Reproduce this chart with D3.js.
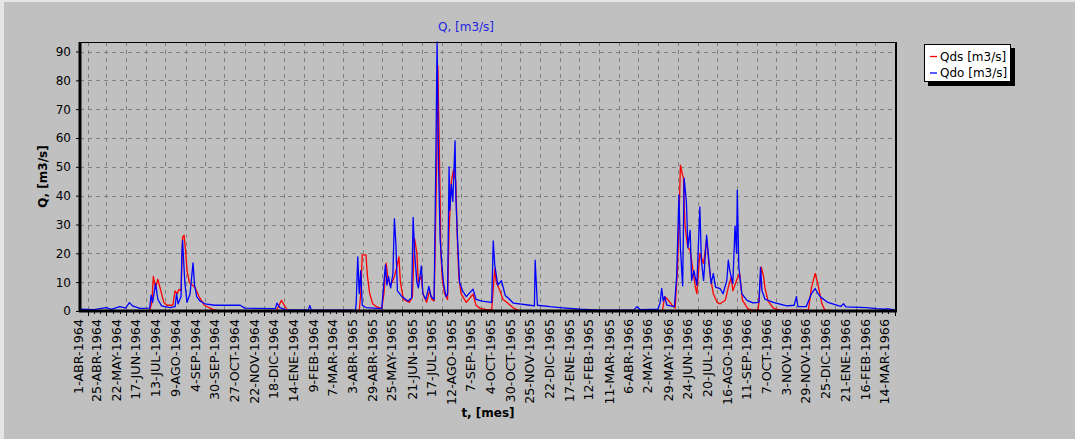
<!DOCTYPE html>
<html>
<head>
<meta charset="utf-8">
<script src="https://cdn.jsdelivr.net/npm/d3@7"></script>
<style>
  html, body { margin: 0; padding: 0; background: #c0c0c0; }
  svg { display: block; }
  text { font-family: "DejaVu Sans", sans-serif; }
</style>
</head>
<body>
<svg id="chart" width="1075" height="439"></svg>
<script>
// Daily discharge, days counted from 1-ABR-1964; [day, Q m3/s]
const qdsDays = [-11,82,85,87,90,93,97,101,105,113,116,119,121,124,126,128,130,132,135,139,143,148,155,167,176,251,255,258,263,267,362,364,366,371,373,376,380,385,392,395,397,398,400,403,406,409,412,415,417,421,429,433,436,439,441,445,447,452,456,459,462,464,466,467,468,470,471,473,476,480,482,485,488,491,493,495,498,505,514,518,523,532,539,543,545,550,554,559,568,577,767,770,775,780,784,787,789,791,794,795,797,799,801,804,811,813,817,822,826,831,835,840,844,851,855,859,861,866,870,874,881,888,895,899,902,904,908,915,924,962,966,971,975,980,984,1004,1079];
const qdsValues = [0,0,3,12,8,11,7,3,2,2,7,6,7.5,7,25.5,26.3,21,14,10,9,8,5,2,0.5,0,0,2,3.7,1.5,0,0,6,19.5,19.5,12,6,2.5,1.5,0.8,6,14,16.6,12,9,10,12,15,18.8,10,4,3,5,25,20,10,12,6,3,7,4,3.5,30,60,85,70,40,20,11,6,4,28,45,49,45,25,12,6,3,5.8,2,1,0.5,0.5,14.7,10,7,4,3,1,0,0,5,3.7,2,1,14,30,50.6,47,46.5,30,25.5,22,21,8.3,6,20,16.5,24.7,11.8,6,3,2.5,3.7,8.3,11.8,7,10.6,13,3.7,0.8,0.2,0.5,15.3,12,8,3.5,1,0.3,0.3,8,13,9,2.5,0.3,0,0];

const qdoDays = [-11,8,24,31,42,50,55,59,69,82,84,86,90,93,98,109,116,118,120,124,125,126,129,132,136,140,142,145,149,156,169,203,209,250,252,256,263,294,296,298,357,358,360,362,364,366,371,392,395,397,399,401,404,407,409,411,413,419,427,432,434,436,439,441,445,447,451,455,458,460,462,464,466,468,470,473,475,478,480,482,483,485,487,490,491,493,496,500,505,514,518,526,539,541,543,547,552,557,561,568,590,596,597,600,617,630,657,683,729,733,737,761,764,766,768,770,773,783,786,789,791,794,796,799,801,804,806,809,813,817,819,822,826,829,832,835,838,844,848,853,855,857,861,864,866,867,869,873,880,888,896,898,900,904,915,933,943,946,948,959,966,971,975,978,987,1005,1009,1012,1039,1053,1065,1067,1079];
const qdoValues = [0.6,0.5,1.2,0.6,1.5,1.0,2.9,1.8,0.9,1.0,5.5,3,9.5,4,1.8,1.2,1.5,6,2.5,5,19,24.5,10,3,6,16.7,9,5,3.5,2.5,2,2,1,0.8,2.7,1.2,0.5,0.3,1.9,0.3,0.3,3,18.8,6,14,2,1.2,0.8,10,16,9,12,8,13,32,23,7,5,3.5,4.5,32.5,20,10,8,15.6,6,4,8.5,5,4.5,4,45,93.3,50,25,14,9,5,6,50,35,44,38,59,40,27,10,7,5,7.6,4,3.4,3,24.3,16,9,10.5,5.4,4.5,2.7,2,1.8,17.6,2,1.5,1.2,0.6,0.3,0.4,1.5,0.5,0.6,3,7.8,3.5,5,2,1.5,12,40.2,22,8.7,46,38,22,28,10.6,14,9,36.1,17.6,10.6,26.3,17.6,9.5,13,8.3,7.8,6,10.6,17.6,14,9.5,29.5,20,41.9,15.3,6,3.7,2.8,3,15,7,4.1,3,1.8,2,5,1.5,1.5,6,7.8,6,4.9,3.1,1.6,2.5,1.4,1.2,0.8,0.6,0.8,0.3];

// Axis labels and their day offsets
const tickLabels = ["1-ABR-1964","25-ABR-1964","22-MAY-1964","17-JUN-1964","13-JUL-1964","9-AGO-1964","4-SEP-1964","30-SEP-1964","27-OCT-1964","22-NOV-1964","18-DIC-1964","14-ENE-1964","9-FEB-1964","7-MAR-1964","3-ABR-1965","29-ABR-1965","25-MAY-1965","21-JUN-1965","17-JUL-1965","12-AGO-1965","7-SEP-1965","4-OCT-1965","30-OCT-1965","25-NOV-1965","22-DIC-1965","17-ENE-1965","12-FEB-1965","11-MAR-1965","6-ABR-1966","2-MAY-1966","29-MAY-1966","24-JUN-1966","20-JUL-1966","16-AGO-1966","11-SEP-1966","7-OCT-1966","3-NOV-1966","29-NOV-1966","25-DIC-1966","21-ENE-1966","16-FEB-1966","14-MAR-1966"];
const tickDays = [0,24,51,77,103,130,156,182,209,235,261,288,314,340,367,393,419,446,472,498,524,551,577,603,630,656,682,709,735,761,788,814,840,867,893,919,946,972,998,1025,1051,1077];
const yTicks = [0,10,20,30,40,50,60,70,80,90];

const seriesNames = ["Qds [m3/s]", "Qdo [m3/s]"];
const seriesColors = ["#ff0000", "#0000ff"];

const svg = d3.select("#chart");
const W = 1075, H = 439;
const plot = { left: 80, right: 896, top: 42, bottom: 311 };

// Panel frame highlights
svg.append("rect").attr("x", 0).attr("y", 0).attr("width", W).attr("height", 2).attr("fill", "#e6e6e6");
svg.append("rect").attr("x", 0).attr("y", 0).attr("width", 4).attr("height", H).attr("fill", "#e6e6e6");

const series = [
  qdsDays.map((d, i) => ({ day: d, q: qdsValues[i] })),
  qdoDays.map((d, i) => ({ day: d, q: qdoValues[i] }))
];

const allDays = qdsDays.concat(qdoDays);
const x = d3.scaleLinear().domain(d3.extent(allDays)).range([plot.left, plot.right]);
const y = d3.scaleLinear().domain([0, d3.max(qdoValues.concat(qdsValues))]).range([plot.bottom, plot.top]);

// Grid
const grid = svg.append("g").attr("stroke", "#808080").attr("stroke-width", 1).attr("stroke-dasharray", "4,4");
grid.selectAll("line.v").data(tickDays).join("line")
  .attr("x1", d => Math.round(x(d)) + 0.5).attr("x2", d => Math.round(x(d)) + 0.5)
  .attr("y1", plot.top).attr("y2", plot.bottom);
grid.selectAll("line.h").data(yTicks.filter(v => v > 0)).join("line")
  .attr("x1", plot.left).attr("x2", plot.right)
  .attr("y1", d => Math.round(y(d)) + 0.5).attr("y2", d => Math.round(y(d)) + 0.5);

// Series lines
const line = d3.line().x(d => x(d.day)).y(d => y(d.q));
svg.append("clipPath").attr("id", "plotclip").append("rect")
  .attr("x", plot.left).attr("y", plot.top - 1).attr("width", plot.right - plot.left).attr("height", plot.bottom - plot.top + 1);
series.forEach((s, i) => {
  svg.append("path").datum(s)
    .attr("clip-path", "url(#plotclip)")
    .attr("fill", "none").attr("stroke", seriesColors[i]).attr("stroke-width", 1.3)
    .attr("stroke-linejoin", "round")
    .attr("d", line);
});

// Plot frame
svg.append("line").attr("x1", plot.left).attr("x2", plot.right).attr("y1", plot.top + 0.5).attr("y2", plot.top + 0.5).attr("stroke", "#000");
svg.append("line").attr("x1", plot.right).attr("x2", plot.right).attr("y1", plot.top).attr("y2", plot.bottom).attr("stroke", "#000").attr("stroke-width", 2);

// Y axis
const yAxis = d3.axisLeft(y).tickValues(yTicks).tickSize(4).tickPadding(5).tickFormat(d3.format("d"));
const gy = svg.append("g").attr("transform", `translate(${plot.left},0)`).call(yAxis);
gy.select(".domain").attr("stroke", "#000").attr("stroke-width", 3).attr("d", `M0,${plot.top}V${plot.bottom + 1}`);
gy.selectAll(".tick line").attr("stroke", "#000");
gy.selectAll(".tick text").attr("fill", "#000").style("font-size", "12px").style("font-family", "DejaVu Sans");

// X axis: major ticks at labelled days, two minor ticks in between
const minor = [];
for (let i = 0; i < tickDays.length - 1; i++) {
  const a = tickDays[i], b = tickDays[i + 1];
  minor.push(a + (b - a) / 3, a + 2 * (b - a) / 3);
}
const gx = svg.append("g");
gx.append("line").attr("x1", plot.left - 1).attr("x2", plot.right + 1)
  .attr("y1", plot.bottom).attr("y2", plot.bottom).attr("stroke", "#000").attr("stroke-width", 3);
gx.selectAll("line.major").data(tickDays).join("line").attr("class", "major")
  .attr("x1", d => Math.round(x(d)) + 0.5).attr("x2", d => Math.round(x(d)) + 0.5)
  .attr("y1", plot.bottom).attr("y2", plot.bottom + 5).attr("stroke", "#000");
gx.selectAll("line.minor").data(minor).join("line").attr("class", "minor")
  .attr("x1", d => Math.round(x(d)) + 0.5).attr("x2", d => Math.round(x(d)) + 0.5)
  .attr("y1", plot.bottom).attr("y2", plot.bottom + 3).attr("stroke", "#000");
gx.selectAll("text").data(tickDays).join("text")
  .attr("transform", d => `translate(${x(d) - 5.5},${plot.bottom + 8}) rotate(-90)`)
  .attr("text-anchor", "end")
  .style("font-size", "12.7px").attr("fill", "#000")
  .text((d, i) => tickLabels[i]);

// Titles
svg.append("text").attr("x", 466).attr("y", 31).attr("text-anchor", "middle")
  .style("font-size", "12px").attr("fill", "#2424e0").text("Q, [m3/s]");
svg.append("text").attr("transform", `translate(47,${(plot.top + plot.bottom) / 2}) rotate(-90)`)
  .attr("text-anchor", "middle").style("font-size", "12px").style("font-weight", "bold")
  .attr("fill", "#000").text("Q, [m3/s]");
svg.append("text").attr("x", (plot.left + plot.right) / 2).attr("y", 417).attr("text-anchor", "middle")
  .style("font-size", "12px").style("font-weight", "bold").attr("fill", "#000").text("t, [mes]");

// Legend
const lg = svg.append("g").attr("transform", "translate(924,44)");
lg.append("rect").attr("x", 4).attr("y", 4).attr("width", 87).attr("height", 38).attr("fill", "#000");
lg.append("rect").attr("x", 0.5).attr("y", 0.5).attr("width", 86).attr("height", 37).attr("fill", "#fff").attr("stroke", "#000");
seriesNames.forEach((name, i) => {
  const row = lg.append("g").attr("transform", `translate(0,${12 + i * 16.5})`);
  row.append("line").attr("x1", 6).attr("x2", 13).attr("y1", 0.5).attr("y2", 0.5)
    .attr("stroke", seriesColors[i]).attr("stroke-width", 1.3);
  row.append("text").attr("x", 16).attr("y", 4.5).style("font-size", "12px").attr("fill", "#000").text(name);
});
</script>
</body>
</html>
